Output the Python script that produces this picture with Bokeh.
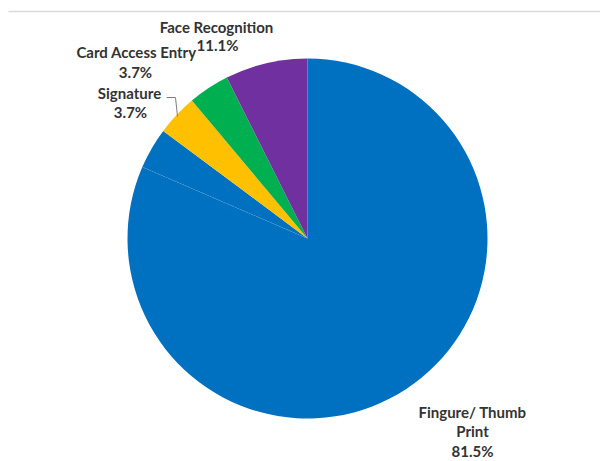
import math
from bokeh.plotting import figure
from bokeh.models import Range1d, ColumnDataSource
from bokeh.core.properties import value
from bokeh.embed import file_html
from bokeh.resources import INLINE

# ---- data ----
categories = ["Fingure/ Thumb Print", "(unlabeled)", "Signature", "Card Access Entry", "Face Recognition"]
values = [81.5, 3.7, 3.7, 3.7, 7.4]
label_names = ["Fingure/ Thumb\nPrint", "", "Signature", "Card Access Entry", "Face Recognition"]
label_pcts = ["81.5%", "", "3.7%", "3.7%", "11.1%"]
colors = ["#0070C0", "#0070C0", "#FFC000", "#00B050", "#7030A0"]

W, H = 600, 459
p = figure(width=W, height=H, output_backend="svg", toolbar_location=None,
           x_range=Range1d(0, W), y_range=Range1d(-H, 0),
           min_border=0, outline_line_color=None)
p.axis.visible = False
p.grid.visible = False
p.background_fill_color = "white"
p.border_fill_color = "white"

cx, cy, r = 307, -238, 180
total = sum(values)
starts, ends = [], []
cum = 0.0
for v in values:
    starts.append(math.pi / 2 - 2 * math.pi * cum / total)
    cum += v
    ends.append(math.pi / 2 - 2 * math.pi * cum / total)

src = ColumnDataSource(dict(cat=categories, val=values, start=starts, end=ends, color=colors))
p.wedge(x=cx, y=cy, radius=r, start_angle="start", end_angle="end", direction="clock",
        fill_color="color", line_color=None, source=src)

# faint dotted boundary between the two blue slices
p.ray(x=[cx], y=[cy], length=r, angle=[starts[1]], line_color="#5a9bd5",
      line_width=1, line_dash="1 2", line_alpha=0.8)

# top gray rule
p.segment(x0=[8], y0=[-11], x1=[W], y1=[-11], line_color="#d9d9d9", line_width=1.5)

# leader line for Signature
p.line(x=[166, 175, 177], y=[-97, -97, -116], line_color="#7f7f7f", line_width=1)

# labels
txt_color = "#333333"
font = value("Lato")
name_pos = {0: (472, -411), 2: (129, -92), 3: (136, -51), 4: (216, -26)}
pct_pos = {0: (472, -450), 2: (130, -111), 3: (135, -71), 4: (217, -44)}
lx, ly, lt = [], [], []
for i in name_pos:
    lines = label_names[i].split("\n")
    x0, y0 = name_pos[i]
    for k, ln in enumerate(lines):
        lx.append(x0); ly.append(y0 - 19 * k); lt.append(ln)
    lx.append(pct_pos[i][0]); ly.append(pct_pos[i][1]); lt.append(label_pcts[i])
p.text(x=lx, y=ly, text=lt, text_align="center", text_baseline="middle",
       text_font=font, text_font_style="bold", text_font_size="15px", text_color=txt_color)

open("out.html", "w").write(file_html(p, INLINE))
